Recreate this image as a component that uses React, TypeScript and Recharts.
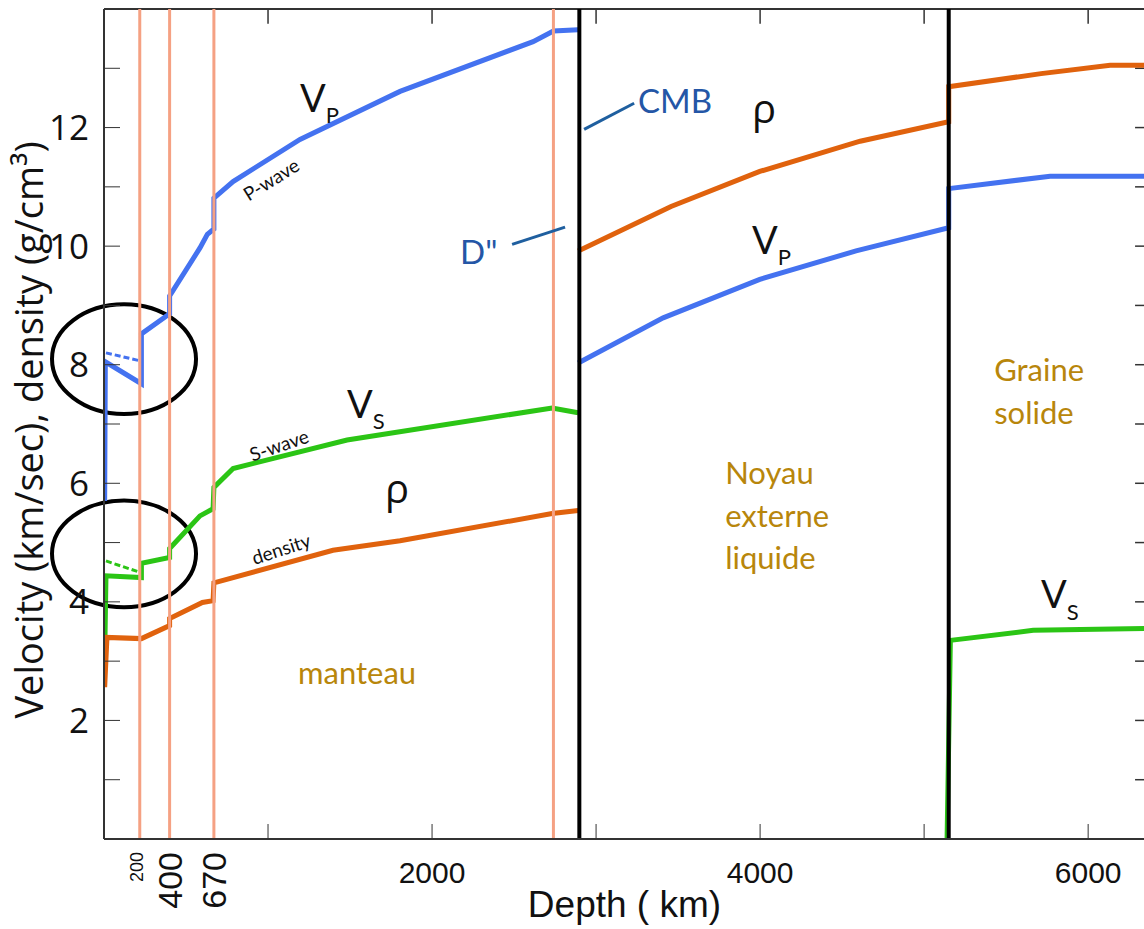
import { LineChart, Line, XAxis, YAxis, ReferenceLine, ReferenceDot, ReferenceArea } from "recharts";

type Pt = [number, number];

// [depth km, value]
const VP_MANTLE: Pt[] = [
  [4, 5.7], [8, 8.05], [228, 7.68], [228, 8.52], [400, 8.86], [400, 9.16], [585, 9.97],
  [630, 10.2], [670, 10.29], [670, 10.81], [787, 11.09], [1195, 11.8], [1805, 12.61],
  [2616, 13.45], [2740, 13.63], [2891, 13.65],
];
const VP_MANTLE_ALT: Pt[] = [[12, 8.2], [228, 8.06]];
const VP_CORE: Pt[] = [
  [2891, 8.03], [3409, 8.79], [3998, 9.44], [4585, 9.92], [5150, 10.31], [5150, 10.97],
  [5768, 11.18], [6371, 11.18],
];
const VS_MANTLE: Pt[] = [
  [4, 3.05], [12, 4.44], [228, 4.41], [228, 4.65], [400, 4.75], [400, 4.9], [585, 5.45],
  [665, 5.57], [670, 5.93], [787, 6.25], [1482, 6.73], [2732, 7.27], [2891, 7.19],
];
const VS_MANTLE_ALT: Pt[] = [[12, 4.69], [228, 4.49]];
const VS_INNER: Pt[] = [[5140, 0], [5160, 3.35], [5665, 3.52], [6371, 3.55]];
const RHO_MANTLE: Pt[] = [
  [4, 2.56], [18, 3.4], [228, 3.38], [400, 3.6], [400, 3.72], [600, 3.99], [665, 4.02],
  [670, 4.32], [1396, 4.87], [1805, 5.03], [2732, 5.49], [2891, 5.54],
];
const RHO_CORE: Pt[] = [
  [2891, 9.92], [3457, 10.67], [3998, 11.26], [4610, 11.77], [5150, 12.1], [5150, 12.69],
  [5713, 12.91], [6134, 13.05], [6371, 13.05],
];

const DEPTH_MAX = 6371;
const VALUE_MAX = 14;
const DEPTH_TICKS = [1000, 2000, 3000, 4000, 5000, 6000];
const DEPTH_LABELS = [2000, 4000, 6000];
const VALUE_TICKS = [1, 2, 3, 4, 5, 6, 7, 8, 9, 10, 11, 12, 13];
const VALUE_LABELS = [2, 4, 6, 8, 10, 12];
const MANTLE_LINES = [218, 400, 670, 2740];
const CORE_LINES = [2898, 5150];
const MANTLE_LINE_LABELS = ["200", "400", "670"];
const MANTLE_LINE_LABEL_DEPTHS = [200, 400, 670];

const BLUE = "#4472f0";
const GREEN = "#2bc515";
const ORANGE = "#e0620d";
const SALMON = "#f5a183";
const GOLD = "#b8860b";
const NAVY = "#2456a6";
const FRAME = "#333";
const LATO = "Lato, 'Open Sans', sans-serif";
const OPEN = "'Open Sans', sans-serif";
const ARIAL = "'Liberation Sans', Arial, sans-serif";

const rows = (pts: Pt[]) => pts.map(([d, v]) => ({ d, v }));

type Note = {
  x: number;
  y: number;
  text: string;
  sub?: string;
  size: number;
  color?: string;
  angle?: number;
  font?: string;
};

const notes: Note[] = [
  { x: 1195, y: 12.27, text: "V", sub: "P", size: 38 },
  { x: 1482, y: 7.1, text: "V", sub: "S", size: 38 },
  { x: 3951, y: 9.87, text: "V", sub: "P", size: 38 },
  { x: 5713, y: 3.89, text: "V", sub: "S", size: 38 },
  { x: 1713, y: 5.67, text: "ρ", size: 40, font: OPEN },
  { x: 3951, y: 12.07, text: "ρ", size: 40, font: OPEN },
  { x: 1018, y: 11.13, text: "P-wave", size: 19, angle: -32 },
  { x: 1067, y: 6.65, text: "S-wave", size: 19, angle: -19 },
  { x: 1079, y: 4.9, text: "density", size: 19, angle: -18 },
  { x: 1183, y: 2.61, text: "manteau", size: 31, color: GOLD },
  { x: 3787, y: 5.99, text: "Noyau", size: 31, color: GOLD },
  { x: 3787, y: 5.27, text: "externe", size: 31, color: GOLD },
  { x: 3787, y: 4.56, text: "liquide", size: 31, color: GOLD },
  { x: 5427, y: 7.73, text: "Graine", size: 31, color: GOLD },
  { x: 5427, y: 7.0, text: "solide", size: 31, color: GOLD },
  { x: 3256, y: 12.24, text: "CMB", size: 33, color: NAVY },
  { x: 2171, y: 9.7, text: 'D"', size: 33, color: NAVY },
];

const leaders = [
  [{ x: 2927, y: 11.97 }, { x: 3232, y: 12.41 }],
  [{ x: 2488, y: 10.03 }, { x: 2811, y: 10.32 }],
];

const circles = [
  { x1: -317, x2: 561, y1: 7.17, y2: 9.02 },
  { x1: -317, x2: 561, y1: 3.91, y2: 5.71 },
];

// inward tick lengths on the top and right frame, in data units (~15px)
const TOP_TICK = 0.25;
const RIGHT_TICK = 85;

const yTitle = (props: any) => {
  const vb = props.viewBox ?? { x: 0, y: 9, width: 104, height: 830 };
  const cx = vb.x + 30;
  const cy = vb.y + vb.height / 2 + 6;
  return (
    <text transform={`translate(${cx},${cy}) rotate(-90)`} textAnchor="middle" dy="0.35em"
      fontSize={38} fontFamily={OPEN} fill="#111">
      Velocity (km/sec), density (g/cm³)
    </text>
  );
};

const xTitle = (props: any) => {
  const vb = props.viewBox ?? { x: 104, y: 839, width: 1045, height: 90 };
  return (
    <text x={vb.x + vb.width / 2 - 2} y={vb.y + 78} textAnchor="middle" fontSize={37}
      fontFamily={ARIAL} fill="#111">
      Depth ( km)
    </text>
  );
};

export default function App() {
  const series = [
    { key: "vpm", data: VP_MANTLE, color: BLUE },
    { key: "vpc", data: VP_CORE, color: BLUE },
    { key: "vsm", data: VS_MANTLE, color: GREEN },
    { key: "vsi", data: VS_INNER, color: GREEN },
    { key: "rm", data: RHO_MANTLE, color: ORANGE },
    { key: "rc", data: RHO_CORE, color: ORANGE },
  ];
  const dashed = [
    { key: "vpa", data: VP_MANTLE_ALT, color: BLUE },
    { key: "vsa", data: VS_MANTLE_ALT, color: GREEN },
  ];

  return (
    <div style={{ position: "absolute", left: 0, top: 0, width: 1144, height: 929, overflow: "hidden", background: "#fff" }}>
      <LineChart width={1152} height={929} margin={{ top: 9, right: 3, bottom: 0, left: 0 }}>
        <XAxis dataKey="d" type="number" domain={[0, DEPTH_MAX]} ticks={DEPTH_TICKS} allowDataOverflow
          height={90} tickSize={-15} tickMargin={38}
          tickFormatter={(v: number) => (DEPTH_LABELS.includes(v) ? String(v) : "")}
          tick={{ fontSize: 30, fill: "#111", fontFamily: ARIAL }}
          stroke={FRAME} axisLine={{ stroke: FRAME, strokeWidth: 2 }} label={xTitle} />
        <YAxis type="number" domain={[0, VALUE_MAX]} ticks={VALUE_TICKS} allowDataOverflow width={104}
          tickSize={-16} tickMargin={31}
          tickFormatter={(v: number) => (VALUE_LABELS.includes(v) ? String(v) : "")}
          tick={{ fontSize: 35, fill: "#111", fontFamily: OPEN }}
          stroke={FRAME} axisLine={{ stroke: FRAME, strokeWidth: 2 }} label={yTitle} />

        {/* top and right frame */}
        <ReferenceLine y={VALUE_MAX} stroke={FRAME} strokeWidth={2} ifOverflow="visible" />
        <ReferenceLine x={DEPTH_MAX} stroke={FRAME} strokeWidth={2} ifOverflow="visible" />
        {DEPTH_TICKS.map((d) => (
          <ReferenceLine key={`tt${d}`} segment={[{ x: d, y: VALUE_MAX }, { x: d, y: VALUE_MAX - TOP_TICK }]}
            stroke={FRAME} strokeWidth={1.5} ifOverflow="visible" />
        ))}
        {VALUE_TICKS.map((v) => (
          <ReferenceLine key={`rt${v}`} segment={[{ x: DEPTH_MAX - RIGHT_TICK, y: v }, { x: DEPTH_MAX, y: v }]}
            stroke={FRAME} strokeWidth={1.5} ifOverflow="visible" />
        ))}

        {series.map((s) => (
          <Line key={s.key} data={rows(s.data)} dataKey="v" type="linear" stroke={s.color}
            strokeWidth={5} dot={false} activeDot={false} isAnimationActive={false} />
        ))}
        {dashed.map((s) => (
          <Line key={s.key} data={rows(s.data)} dataKey="v" type="linear" stroke={s.color}
            strokeWidth={3} strokeDasharray="6 3" dot={false} activeDot={false} isAnimationActive={false} />
        ))}

        {MANTLE_LINES.map((d) => (
          <ReferenceLine key={`m${d}`} x={d} stroke={SALMON} strokeWidth={3} />
        ))}
        {CORE_LINES.map((d) => (
          <ReferenceLine key={`c${d}`} x={d} stroke="#000" strokeWidth={4} />
        ))}
        {leaders.map((seg, i) => (
          <ReferenceLine key={`l${i}`} segment={seg} stroke="#1f5f9f" strokeWidth={3} ifOverflow="visible" />
        ))}

        {circles.map((c, i) => (
          <ReferenceArea key={`e${i}`} x1={c.x1} x2={c.x2} y1={c.y1} y2={c.y2} ifOverflow="visible"
            shape={(p: any) => (
              <ellipse cx={p.x + p.width / 2} cy={p.y + p.height / 2} rx={Math.abs(p.width) / 2}
                ry={Math.abs(p.height) / 2} fill="none" stroke="#000" strokeWidth={4} />
            )} />
        ))}

        {MANTLE_LINE_LABEL_DEPTHS.map((d, i) => (
          <ReferenceDot key={`ml${d}`} x={d} y={0} r={1} ifOverflow="visible"
            shape={(p: any) => (
              <text transform={`translate(${p.cx},${p.cy + 13}) rotate(-90)`} textAnchor="end"
                dy="0.36em" fontSize={i === 0 ? 18 : 34} fontFamily={ARIAL} fill="#111">
                {MANTLE_LINE_LABELS[i]}
              </text>
            )} />
        ))}

        {notes.map((n, i) => (
          <ReferenceDot key={`n${i}`} x={n.x} y={n.y} r={1} ifOverflow="visible"
            shape={(p: any) => (
              <text x={p.cx} y={p.cy} fontSize={n.size} fill={n.color ?? "#111"}
                fontFamily={n.font ?? LATO} textAnchor={n.angle ? "middle" : "start"}
                dominantBaseline={n.angle ? "central" : undefined}
                transform={n.angle ? `rotate(${n.angle} ${p.cx} ${p.cy})` : undefined}>
                {n.text}
                {n.sub && (
                  <tspan fontSize={n.size * 0.58} dy={n.size * 0.3}>{n.sub}</tspan>
                )}
              </text>
            )} />
        ))}
      </LineChart>
    </div>
  );
}
